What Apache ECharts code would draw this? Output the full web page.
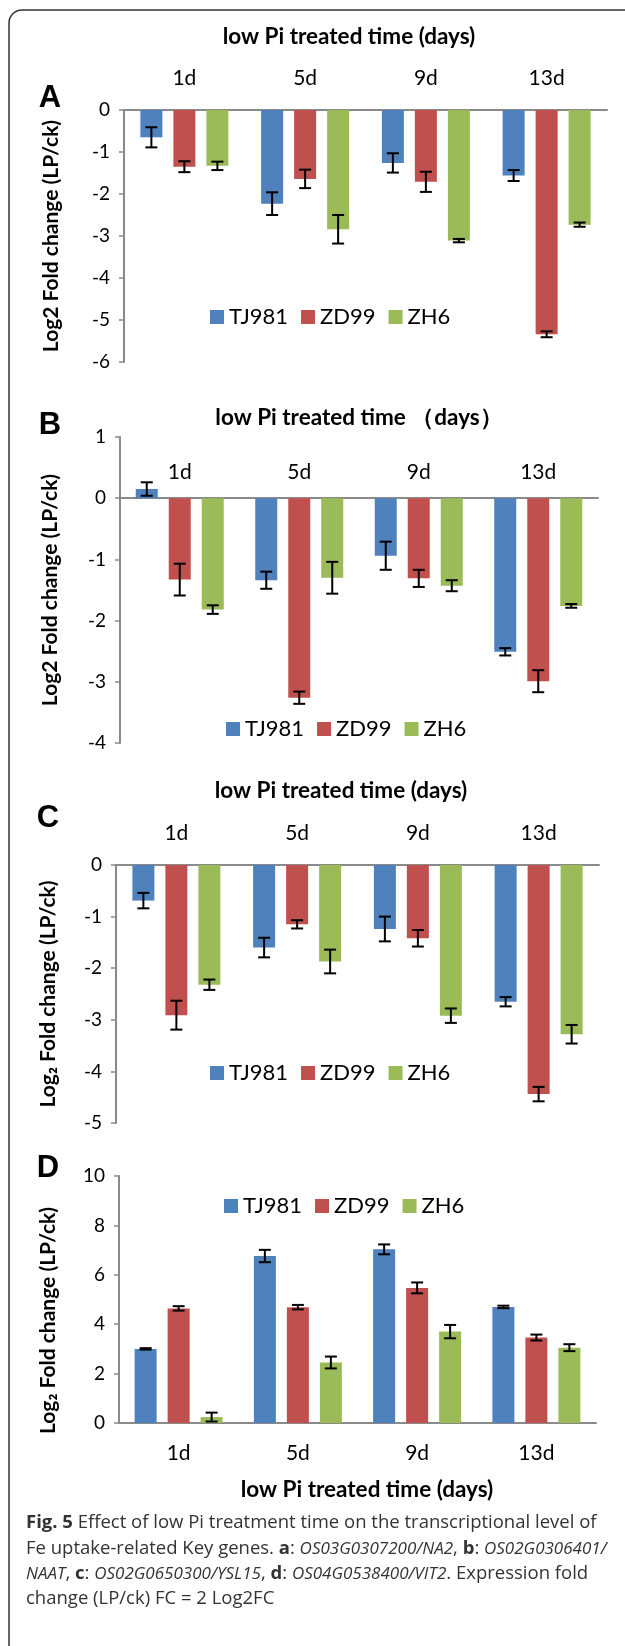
<!DOCTYPE html>
<html>
<head>
<meta charset="utf-8">
<script src="https://cdn.jsdelivr.net/npm/echarts@6/dist/echarts.min.js"></script>
<style>
  html, body { margin: 0; padding: 0; background: #fff; }
  #chart { width: 625px; height: 1646px; }
</style>
</head>
<body>
<div id="chart"></div>
<script>
// ---- data ----
const categories = ['1d', '5d', '9d', '13d']
const cultivars  = ['TJ981', 'ZD99', 'ZH6']

// A: OS03G0307200/NA2
const aTJ981    = [-0.65, -2.23, -1.26, -1.56]
const aZD99     = [-1.35, -1.64, -1.71, -5.34]
const aZH6      = [-1.33, -2.84, -3.11, -2.73]
const aTJ981Err = [0.24, 0.27, 0.23, 0.13]
const aZD99Err  = [0.13, 0.22, 0.24, 0.07]
const aZH6Err   = [0.10, 0.34, 0.04, 0.05]

// B: OS02G0306401/NAAT
const bTJ981    = [0.15, -1.34, -0.94, -2.51]
const bZD99     = [-1.33, -3.26, -1.31, -2.99]
const bZH6      = [-1.82, -1.30, -1.43, -1.76]
const bTJ981Err = [0.11, 0.14, 0.23, 0.06]
const bZD99Err  = [0.26, 0.10, 0.14, 0.18]
const bZH6Err   = [0.07, 0.26, 0.09, 0.03]

// C: OS02G0650300/YSL15
const cTJ981    = [-0.69, -1.60, -1.24, -2.65]
const cZD99     = [-2.91, -1.15, -1.42, -4.44]
const cZH6      = [-2.32, -1.87, -2.92, -3.28]
const cTJ981Err = [0.15, 0.19, 0.24, 0.09]
const cZD99Err  = [0.28, 0.08, 0.16, 0.14]
const cZH6Err   = [0.10, 0.23, 0.14, 0.18]

// D: OS04G0538400/VIT2
const dTJ981    = [3.00, 6.76, 7.03, 4.70]
const dZD99     = [4.64, 4.69, 5.47, 3.46]
const dZH6      = [0.24, 2.45, 3.70, 3.05]
const dTJ981Err = [0.03, 0.25, 0.20, 0.05]
const dZD99Err  = [0.09, 0.09, 0.22, 0.12]
const dZH6Err   = [0.18, 0.24, 0.27, 0.14]

// y axis ranges [min, max, interval]
const aRange = [-6, 0, 1]
const bRange = [-4, 1, 1]
const cRange = [-5, 0, 1]
const dRange = [0, 10, 2]

// ---- layout / style ----
const colors  = ['#4F81BD', '#C0504D', '#9BBB59']
const font    = 'Lato, "Open Sans", sans-serif'
const axisCol = '#8a8a8a'
const barW    = 22
const step    = 33 // bar width + gap

const panels = [
  { vals: [aTJ981, aZD99, aZH6], errs: [aTJ981Err, aZD99Err, aZH6Err], range: aRange,
    grid: { left: 124, top: 110, width: 483, height: 252 }, pos: 'top', margin: 21,
    name: 'Log2 Fold change (LP/ck)', nameGap: 62, namePad: 0, legend: { left: 210, top: 306 } },
  { vals: [bTJ981, bZD99, bZH6], errs: [bTJ981Err, bZD99Err, bZH6Err], range: bRange,
    grid: { left: 120, top: 437, width: 478, height: 306 }, pos: 'top', margin: -46,
    name: 'Log2 Fold change (LP/ck)', nameGap: 59, namePad: 0, legend: { left: 226, top: 718 } },
  { vals: [cTJ981, cZD99, cZH6], errs: [cTJ981Err, cZD99Err, cZH6Err], range: cRange,
    grid: { left: 116, top: 865, width: 483, height: 258 }, pos: 'top', margin: 21,
    name: 'Log\u2082 Fold change (LP/ck)', nameGap: 57, namePad: 0, legend: { left: 210, top: 1062 } },
  { vals: [dTJ981, dZD99, dZH6], errs: [dTJ981Err, dZD99Err, dZH6Err], range: dRange,
    grid: { left: 119, top: 1176, width: 477, height: 247 }, pos: 'bottom', margin: 20,
    name: 'Log\u2082 Fold change (LP/ck)', nameGap: 60, namePad: 42, legend: { left: 224, top: 1195 } },
]

function errRender(offset) {
  return (params, api) => {
    const c  = api.value(0)
    const lo = api.coord([c, api.value(1)])
    const hi = api.coord([c, api.value(2)])
    const x  = lo[0] + offset
    const style = { stroke: '#000', lineWidth: 2 }
    return {
      type: 'group',
      children: [
        { type: 'line', shape: { x1: x, y1: lo[1], x2: x, y2: hi[1] }, style },
        { type: 'line', shape: { x1: x - 6, y1: lo[1], x2: x + 6, y2: lo[1] }, style },
        { type: 'line', shape: { x1: x - 6, y1: hi[1], x2: x + 6, y2: hi[1] }, style },
      ]
    }
  }
}

const grid = [], xAxis = [], yAxis = [], legend = [], series = []

panels.forEach((p, k) => {
  grid.push(p.grid)
  xAxis.push({
    type: 'category',
    gridIndex: k,
    data: categories,
    position: p.pos,
    axisLine: { lineStyle: { color: axisCol, width: 2 } },
    axisTick: { inside: p.pos === 'top', length: 6, lineStyle: { color: axisCol, width: 1.5 } },
    axisLabel: { margin: p.margin, color: '#000', fontSize: 21, fontFamily: font },
  })
  yAxis.push({
    type: 'value',
    gridIndex: k,
    min: p.range[0],
    max: p.range[1],
    interval: p.range[2],
    name: p.name,
    nameLocation: 'middle',
    nameGap: p.nameGap,
    nameTextStyle: { fontSize: 21, fontWeight: 'bold', color: '#000', fontFamily: font, padding: [0, p.namePad, 0, 0] },
    axisLine: { show: true, lineStyle: { color: axisCol, width: 2 } },
    axisTick: { show: true, length: 5, lineStyle: { color: axisCol, width: 1.5 } },
    axisLabel: { margin: 14, color: '#000', fontSize: 19, fontFamily: font },
    splitLine: { show: false },
  })
  legend.push({
    data: cultivars,
    left: p.legend.left,
    top: p.legend.top,
    padding: 0,
    icon: 'rect',
    itemWidth: 14,
    itemHeight: 14,
    itemGap: 13,
    selectedMode: false,
    textStyle: { fontSize: 22, color: '#000', fontFamily: font },
  })
  cultivars.forEach((name, i) => {
    series.push({
      name,
      type: 'bar',
      xAxisIndex: k,
      yAxisIndex: k,
      barWidth: barW,
      barGap: '50%',
      itemStyle: { color: colors[i] },
      data: p.vals[i],
    })
  })
  cultivars.forEach((name, i) => {
    series.push({
      name: name + ' SD',
      type: 'custom',
      xAxisIndex: k,
      yAxisIndex: k,
      z: 5,
      renderItem: errRender((i - 1) * step),
      data: p.vals[i].map((v, j) => [j, v - p.errs[i][j], v + p.errs[i][j]]),
    })
  })
})

const titleStyle = { fontSize: 22.5, fontWeight: 'bold', fill: '#000', fontFamily: font, align: 'center', verticalAlign: 'middle' }
const letterStyle = { fontSize: 31, fontWeight: 'bold', fill: '#000', fontFamily: 'Liberation Sans, Arial, sans-serif', align: 'center', verticalAlign: 'middle' }
const capFont = '"Open Sans", sans-serif'
const capSize = 18.5
const capRich = {
  b: { fontWeight: 'bold', fontSize: capSize, fontFamily: capFont, fill: '#333' },
  i: { fontStyle: 'italic', fontSize: 17, fontFamily: capFont, fill: '#333' },
}
const capStyle = (text) => ({ text, fontSize: capSize, fontFamily: capFont, fill: '#333', verticalAlign: 'middle', rich: capRich })

const graphic = [
  // figure frame: only the top-left corner is inside the picture
  { type: 'rect', shape: { x: 9, y: 10, width: 800, height: 1800, r: 13 }, style: { fill: 'none', stroke: '#333', lineWidth: 1.5 } },
  { type: 'text', x: 349, y: 37, style: { ...titleStyle, text: 'low Pi treated time (days)' } },
  { type: 'text', x: 359, y: 418, style: { ...titleStyle, text: 'low Pi treated time （days）' } },
  { type: 'text', x: 341, y: 791, style: { ...titleStyle, text: 'low Pi treated time (days)' } },
  { type: 'text', x: 367, y: 1490, style: { ...titleStyle, text: 'low Pi treated time (days)' } },
  { type: 'text', x: 50, y: 98, style: { ...letterStyle, text: 'A' } },
  { type: 'text', x: 50, y: 425, style: { ...letterStyle, text: 'B' } },
  { type: 'text', x: 48, y: 818, style: { ...letterStyle, text: 'C' } },
  { type: 'text', x: 48, y: 1168, style: { ...letterStyle, text: 'D' } },
  { type: 'text', x: 26, y: 1523, style: capStyle('{b|Fig. 5} Effect of low Pi treatment time on the transcriptional level of') },
  { type: 'text', x: 26, y: 1549, style: capStyle('Fe uptake-related Key genes. {b|a}: {i|OS03G0307200/NA2}, {b|b}: {i|OS02G0306401/}') },
  { type: 'text', x: 26, y: 1574, style: capStyle('{i|NAAT}, {b|c}: {i|OS02G0650300/YSL15}, {b|d}: {i|OS04G0538400/VIT2}. Expression fold') },
  { type: 'text', x: 26, y: 1599, style: capStyle('change (LP/ck) FC = 2 Log2FC') },
]

const chart = echarts.init(document.getElementById('chart'), null, { renderer: 'canvas' })
chart.setOption({
  animation: false,
  backgroundColor: '#fff',
  textStyle: { fontFamily: font },
  grid,
  xAxis,
  yAxis,
  legend,
  series,
  graphic,
})
</script>
</body>
</html>
